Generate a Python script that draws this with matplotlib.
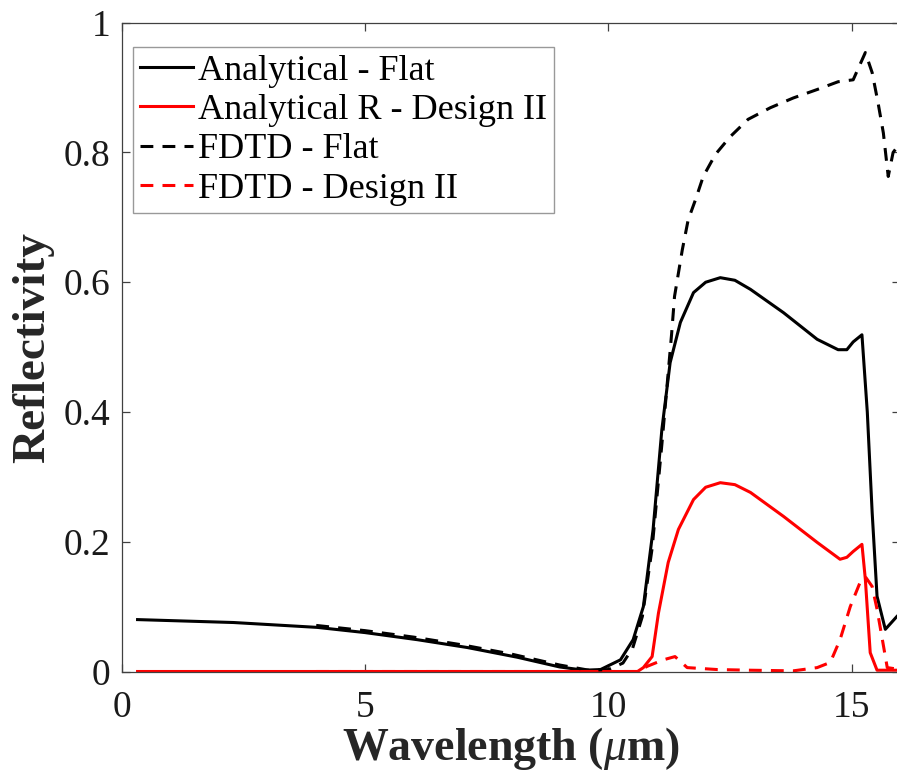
import numpy as np
import matplotlib
matplotlib.use("Agg")
import matplotlib.pyplot as plt

# Analytical - Flat
an_flat_x = [0.33, 2.3, 4.02, 5.0, 6.08, 7.1, 8.13, 9.0, 9.5, 9.84, 10.25, 10.51, 10.72, 10.92, 11.1,
             11.27, 11.48, 11.75, 12.0, 12.3, 12.6, 12.92, 13.6, 14.29, 14.72, 14.9, 15.03, 15.21,
             15.32, 15.42, 15.52, 15.69, 15.93, 16.0]
an_flat_y = [0.080, 0.0755, 0.068, 0.060, 0.049, 0.037, 0.022, 0.007, 0.002, 0.003, 0.018, 0.049, 0.10,
             0.219, 0.373, 0.476, 0.538, 0.584, 0.600, 0.607, 0.603, 0.589, 0.553, 0.512, 0.496, 0.496,
             0.508, 0.519, 0.40, 0.245, 0.116, 0.065, 0.085, 0.09]

# Analytical R - Design II
an_d2_x = [0.33, 10.6, 10.72, 10.9, 11.03, 11.23, 11.44, 11.75, 12.0, 12.3, 12.6, 12.92, 13.6, 14.29,
           14.76, 14.9, 15.03, 15.21, 15.28, 15.38, 15.52, 16.0]
an_d2_y = [0.0, 0.0, 0.006, 0.023, 0.09, 0.168, 0.219, 0.265, 0.284, 0.291, 0.288, 0.276, 0.239, 0.199,
           0.173, 0.176, 0.185, 0.196, 0.142, 0.029, 0.002, 0.002]

# FDTD - Flat
fd_flat_x = [4.0, 5.0, 6.0, 7.0, 8.0, 9.0, 9.6, 10.0, 10.3, 10.5, 10.7, 10.9, 11.1, 11.3, 11.36, 11.52,
             11.64, 11.79, 11.95, 12.2, 12.5, 12.87, 13.33, 13.8, 14.29, 14.72, 15.03, 15.28, 15.42,
             15.54, 15.65, 15.75, 15.85, 16.0]
fd_flat_y = [0.071, 0.063, 0.053, 0.041, 0.027, 0.010, 0.002, 0.003, 0.013, 0.036, 0.085, 0.19, 0.35,
             0.52, 0.578, 0.650, 0.696, 0.727, 0.763, 0.797, 0.824, 0.851, 0.869, 0.884, 0.897, 0.909,
             0.912, 0.954, 0.923, 0.877, 0.830, 0.763, 0.800, 0.815]

# FDTD - Design II
fd_d2_x = [4.0, 10.6, 10.8, 11.13, 11.37, 11.62, 12.24, 12.9, 13.8, 14.29, 14.56, 14.76, 14.97, 15.17,
           15.28, 15.42, 15.52, 15.63, 15.73, 16.0]
fd_d2_y = [0.0, 0.0, 0.008, 0.018, 0.023, 0.006, 0.003, 0.002, 0.001, 0.006, 0.014, 0.049, 0.10, 0.137,
           0.146, 0.131, 0.096, 0.049, 0.006, 0.003]

labels = ["Analytical - Flat", "Analytical R - Design II", "FDTD - Flat", "FDTD - Design II"]
xticks = [0, 5, 10, 15]
yticks = [0, 0.2, 0.4, 0.6, 0.8, 1]
ytick_labels = ["0", "0.2", "0.4", "0.6", "0.8", "1"]

plt.rcParams['font.family'] = ['Liberation Serif', 'DejaVu Serif']
plt.rcParams['mathtext.fontset'] = 'custom'
plt.rcParams['mathtext.rm'] = 'Liberation Serif:bold'
plt.rcParams['mathtext.it'] = 'Liberation Serif:italic'
plt.rcParams['mathtext.bf'] = 'Liberation Serif:bold'

W, H = 897, 783
fig = plt.figure(figsize=(W / 100, H / 100), dpi=100)
left, right, top, bottom = 121.5, 900.4, 22.7, 671.5
ax = fig.add_axes([left / W, 1 - bottom / H, (right - left) / W, (bottom - top) / H])

lw = 2.2
dash = (4.2, 3.0)
ax.plot(an_flat_x, an_flat_y, color='black', lw=lw, label=labels[0])
ax.plot(an_d2_x, an_d2_y, color='#ff0000', lw=lw, label=labels[1])
ax.plot(fd_flat_x, fd_flat_y, color='black', lw=lw, dashes=dash, label=labels[2])
ax.plot(fd_d2_x, fd_d2_y, color='#ff0000', lw=lw, dashes=dash, label=labels[3])

ax.set_xlim(0, 16)
ax.set_ylim(0, 1)
ax.set_xticks(xticks)
ax.set_yticks(yticks)
ax.set_yticklabels(ytick_labels)
axcol = '#404040'
for s in ax.spines.values():
    s.set_color(axcol)
    s.set_linewidth(0.9)
ax.tick_params(direction='in', length=6, width=0.9, colors=axcol, labelcolor='#1a1a1a',
               labelsize=27, top=True, right=True)
ax.tick_params(axis='x', pad=14)
ax.tick_params(axis='y', pad=8)

ax.set_xlabel(r'Wavelength ($\mu$m)', fontsize=33, fontweight='bold', color='#262626', labelpad=0)
ax.set_ylabel('Reflectivity', fontsize=34, fontweight='bold', color='#262626', labelpad=7)

leg = ax.legend(loc='upper left', bbox_to_anchor=(133 / W, 1 - 47 / H), bbox_transform=fig.transFigure,
                borderaxespad=0, fontsize=26, frameon=True, fancybox=False, handlelength=1.45,
                handletextpad=0.15, labelspacing=0.17, borderpad=0.2)
leg.get_frame().set_edgecolor('#808080')
leg.get_frame().set_linewidth(1.0)
for t in leg.get_texts():
    t.set_color('black')

fig.savefig('out.png', dpi=100)
